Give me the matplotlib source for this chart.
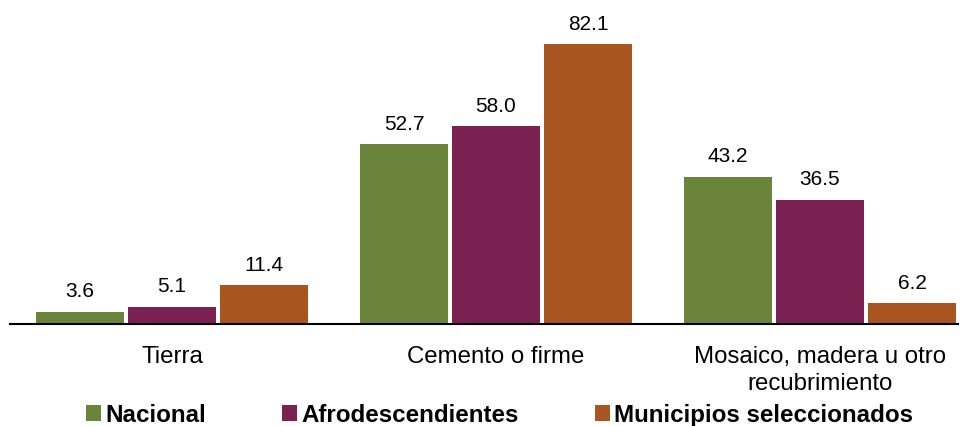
import matplotlib
matplotlib.use("Agg")
import matplotlib.pyplot as plt
import numpy as np

categories = ["Tierra", "Cemento o firme", "Mosaico, madera u otro\nrecubrimiento"]
series_names = ["Nacional", "Afrodescendientes", "Municipios seleccionados"]
nacional = [3.6, 52.7, 43.2]
afro = [5.1, 58.0, 36.5]
municipios = [11.4, 82.1, 6.2]
colors = ["#6A843A", "#7B2152", "#A85522"]

plt.rcParams['font.family'] = ['Liberation Sans', 'DejaVu Sans']

W, H = 969, 427
fig = plt.figure(figsize=(W/100, H/100), dpi=100)
ax = fig.add_axes([10/W, (H-325)/H, 948/W, 315/H])

x = np.arange(len(categories))
unit = 324.0
bw = 88/unit
step = 92/unit
bars_all = []
for i, (vals, name, c) in enumerate(zip([nacional, afro, municipios], series_names, colors)):
    b = ax.bar(x + (i-1)*step, vals, width=bw, color=c, label=name)
    bars_all.append(b)
    for rect, v in zip(b, vals):
        ax.text(rect.get_x() + rect.get_width()/2, v + 3.3, f"{v:.1f}",
                ha='center', va='bottom', fontsize=15, color='#000000')

ax.set_xlim(-0.5, (958-172)/unit)
ax.set_ylim(0, 315/3.41)
ax.set_xticks(x)
ax.set_xticklabels(categories, fontsize=17.3, linespacing=1.3)
ax.tick_params(axis='x', length=0, pad=15)
ax.set_yticks([])
for s in ['top', 'right', 'left']:
    ax.spines[s].set_visible(False)
ax.spines['bottom'].set_linewidth(1.5)
ax.spines['bottom'].set_color('#000000')

leg = fig.legend(handles=bars_all, labels=series_names, loc='center left',
                 bbox_to_anchor=(86/W, 1 - 416/H), ncol=3, frameon=False,
                 prop={'weight': 'bold', 'size': 17.4},
                 handlelength=0.6, handleheight=0.6, handletextpad=0.2,
                 columnspacing=3.15, borderpad=0, borderaxespad=0)

fig.savefig("out.png", dpi=100)
